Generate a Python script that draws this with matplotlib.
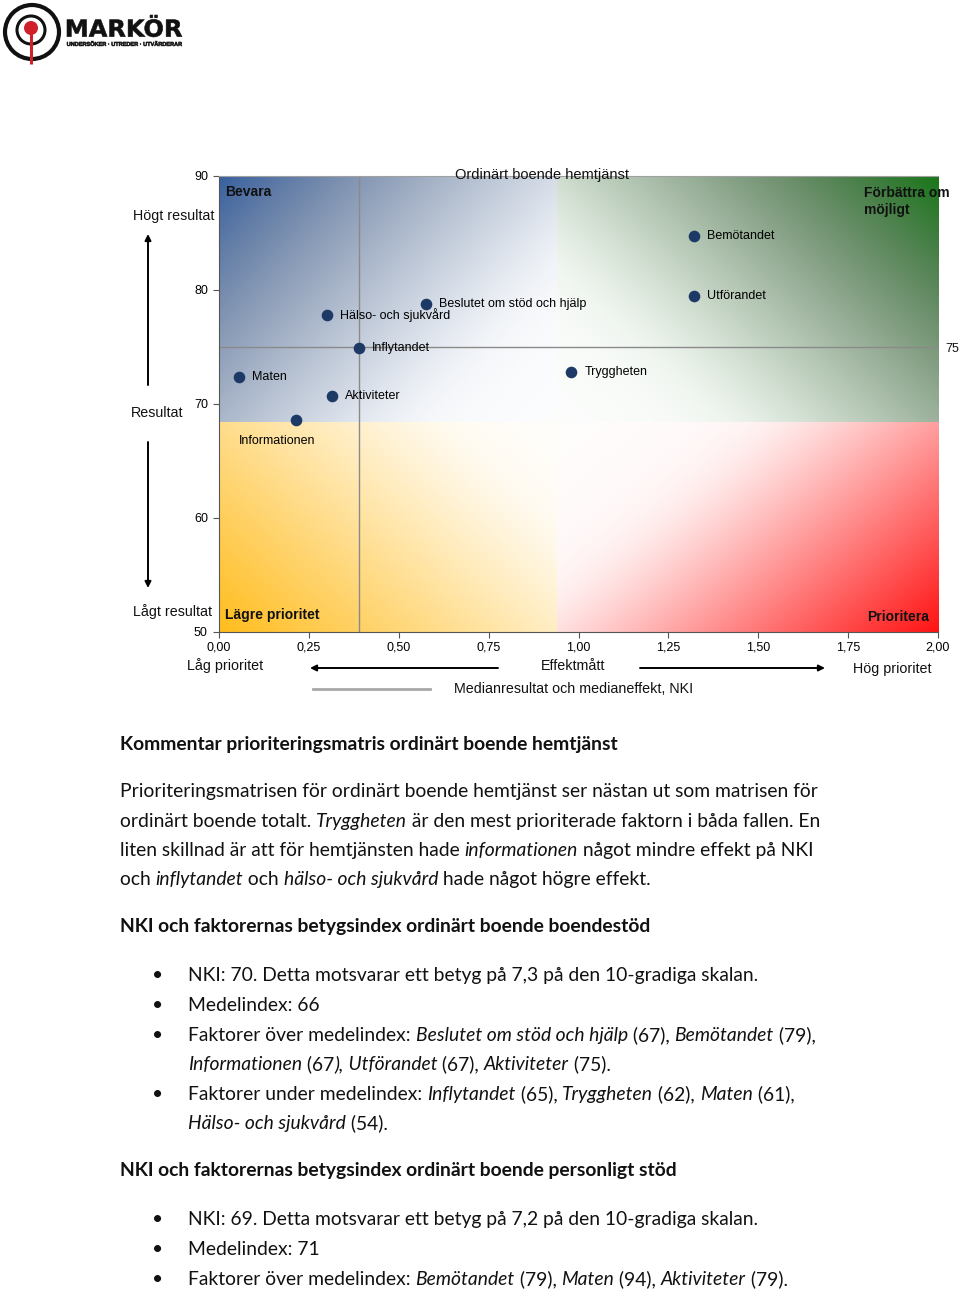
import matplotlib
matplotlib.use("Agg")
import matplotlib.pyplot as plt
import numpy as np
from matplotlib.patches import Circle, PathPatch
from matplotlib.textpath import TextPath
from matplotlib.font_manager import FontProperties
from matplotlib.transforms import Affine2D

# data
factors = ["Bemötandet", "Utförandet", "Beslutet om stöd och hjälp", "Hälso- och sjukvård",
           "Inflytandet", "Tryggheten", "Maten", "Aktiviteter", "Informationen"]
effect = [1.32, 1.32, 0.575, 0.30, 0.39, 0.98, 0.055, 0.315, 0.215]
result = [84.7, 79.5, 78.8, 77.8, 74.9, 72.8, 72.4, 70.7, 68.6]
median_effect = 0.39
median_result = 75
x_ticks = [0.0, 0.25, 0.5, 0.75, 1.0, 1.25, 1.5, 1.75, 2.0]
y_ticks = [50, 60, 70, 80, 90]
# background zone split
split_x = 0.94
split_y = 68.4

chart_font = "Liberation Sans"
body_font = "Lato"

fig = plt.figure(figsize=(9.6, 12.91), dpi=100)

# chart axes (pixel box 219..938 x 176..632)
ax = fig.add_axes([219 / 960, 1 - 632 / 1291, 719 / 960, 456 / 1291], zorder=1)


def quad(x0, x1, y0, y1, rgb, cx, cy, a, b, desat):
    n = 200
    u = np.linspace(0, 1, n)[None, :]
    v = np.linspace(0, 1, n)[:, None]
    lin = 1 - a * np.abs(u - cx) - b * np.abs(v - cy)
    f = 0.5 * (lin + np.sqrt(lin ** 2 + 0.02))  # soft clip at 0
    f = np.clip(f, 0, 1)
    img = np.ones((n, n, 3))
    for i in range(3):
        img[:, :, i] = 1 - (1 - rgb[i]) * f
    lum = img.mean(axis=2, keepdims=True)
    k = (desat * 4 * f * (1 - f))[:, :, None]
    img = img * (1 - k) + lum * k
    ax.imshow(img, extent=[x0, x1, y0, y1], origin="lower", aspect="auto",
              interpolation="bilinear", zorder=0)


quad(0, split_x, split_y, 90, (0.22, 0.38, 0.63), 0, 1, 0.8, 0.55, 0.35)
quad(split_x, 2, split_y, 90, (0.10, 0.47, 0.10), 1, 1, 0.8, 0.55, 0.5)
quad(0, split_x, 50, split_y, (1.0, 0.74, 0.12), 0, 0, 0.75, 0.5, 0.0)
quad(split_x, 2, 50, split_y, (1.0, 0.08, 0.08), 1, 0, 0.9, 0.6, 0.0)
ax.set_xlim(0, 2)
ax.set_ylim(50, 90)

ax.axvline(median_effect, color="#8a8a8a", lw=1, zorder=1)
ax.axhline(median_result, color="#8a8a8a", lw=1, zorder=1)

ax.scatter(effect, result, s=70, color="#1d3966", zorder=3, linewidths=0)
for name, x, y in zip(factors, effect, result):
    if name == "Informationen":
        ax.annotate(name, (x, y), xytext=(-19, -21), textcoords="offset pixels",
                    ha="center", va="center", fontsize=9, family=chart_font, zorder=4)
    else:
        ax.annotate(name, (x, y), xytext=(13, 0), textcoords="offset pixels",
                    ha="left", va="center", fontsize=9, family=chart_font, zorder=4)

ax.set_xticks(x_ticks)
ax.set_xticklabels([f"{v:.2f}".replace(".", ",") for v in x_ticks],
                   fontsize=9, family=chart_font)
ax.set_yticks(y_ticks)
ax.set_yticklabels([str(v) for v in y_ticks], fontsize=9, family=chart_font)
ax.tick_params(length=4, color="#555555", pad=3)
ax.tick_params(axis="y", pad=4)
ax.spines["right"].set_visible(False)
ax.spines["top"].set_color("#a0a0a0")
ax.spines["top"].set_linewidth(0.8)
for s in ["left", "bottom"]:
    ax.spines[s].set_color("#555555")
    ax.spines[s].set_linewidth(0.8)

# page axes in pixel coordinates, on top
pg = fig.add_axes([0, 0, 1, 1], zorder=5)
pg.set_xlim(0, 960)
pg.set_ylim(1291, 0)
pg.axis("off")
pg.patch.set_alpha(0)

# logo
pg.add_patch(Circle((32, 32), 27, fill=False, lw=3.0, ec="#111111"))
pg.add_patch(Circle((31, 30), 14, fill=False, lw=2.2, ec="#111111"))
pg.plot([31, 31], [28, 64], color="#d0202a", lw=2.2, solid_capstyle="butt")
pg.add_patch(Circle((31, 28), 7, fc="#d0202a", ec="none"))


def path_text(s, box, family):
    tp = TextPath((0, 0), s, size=10, prop=FontProperties(family=family, weight="bold"))
    bb = tp.get_extents()
    x0, y0, x1, y1 = box
    tr = (Affine2D().translate(-bb.x0, -bb.y0)
          .scale((x1 - x0) / bb.width, -(y1 - y0) / bb.height)
          .translate(x0, y1))
    pg.add_patch(PathPatch(tr.transform_path(tp), fc="#111111", ec="#111111", lw=0.4))


path_text("MARKÖR", (67, 15, 182, 37), "DejaVu Sans")
path_text("UNDERSÖKER · UTREDER · UTVÄRDERAR", (67, 41, 182, 46), chart_font)

# chart texts
ct = dict(family=chart_font, color="#111111")
pg.text(542, 175, "Ordinärt boende hemtjänst", ha="center", va="center", fontsize=10.5, **ct)
pg.text(225, 192, "Bevara", ha="left", va="center", fontsize=10, weight="bold", **ct)
pg.text(864, 193, "Förbättra om", ha="left", va="center", fontsize=10, weight="bold", **ct)
pg.text(864, 210, "möjligt", ha="left", va="center", fontsize=10, weight="bold", **ct)
pg.text(225, 615, "Lägre prioritet", ha="left", va="center", fontsize=10, weight="bold", **ct)
pg.text(929, 617, "Prioritera", ha="right", va="center", fontsize=10, weight="bold", **ct)
pg.text(952, 349, "75", ha="center", va="center", fontsize=9, **ct)

pg.text(214, 216, "Högt resultat", ha="right", va="center", fontsize=10.3, **ct)
pg.text(157, 413, "Resultat", ha="center", va="center", fontsize=10.3, **ct)
pg.text(212, 612, "Lågt resultat", ha="right", va="center", fontsize=10.3, **ct)
arrow = dict(arrowstyle="-|>", color="black", lw=1.4, mutation_scale=9, shrinkA=0, shrinkB=0)
pg.annotate("", xy=(148, 234), xytext=(148, 385), arrowprops=arrow)
pg.annotate("", xy=(148, 588), xytext=(148, 442), arrowprops=arrow)

pg.text(225, 666, "Låg prioritet", ha="center", va="center", fontsize=10.3, **ct)
pg.text(573, 666, "Effektmått", ha="center", va="center", fontsize=10.3, **ct)
pg.text(892, 669, "Hög prioritet", ha="center", va="center", fontsize=10.3, **ct)
pg.annotate("", xy=(310, 668), xytext=(498, 668), arrowprops=arrow)
pg.annotate("", xy=(825, 668), xytext=(640, 668), arrowprops=arrow)
pg.plot([313, 430], [689, 689], color="#a8a8a8", lw=2)
pg.text(574, 689, "Medianresultat och medianeffekt, NKI", ha="center", va="center",
        fontsize=10.3, **ct)

# body text
renderer = fig.canvas.get_renderer()


def width(s, **kw):
    t = pg.text(0, 0, "x" + s + "x", **kw)
    w = t.get_window_extent(renderer).width
    t.remove()
    t2 = pg.text(0, 0, "xx", **kw)
    w2 = t2.get_window_extent(renderer).width
    t2.remove()
    return w - w2


line1 = "Prioriteringsmatrisen för ordinärt boende hemtjänst ser nästan ut som matrisen för"
body_pt = 10 * 698 / width(line1, fontsize=10, family=body_font)


def runs(x, y, parts, weight="normal"):
    for s, style in parts:
        kw = dict(fontsize=body_pt, family=body_font, style=style, weight=weight)
        pg.text(x, y, s, va="baseline", ha="left", color="#111111", **kw)
        x += width(s, **kw)


N, I = "normal", "italic"
off = 6
runs(120, 744 + off, [("Kommentar prioriteringsmatris ordinärt boende hemtjänst", N)], "bold")
runs(120, 791 + off, [(line1, N)])
runs(120, 821 + off, [("ordinärt boende totalt. ", N), ("Tryggheten", I),
                      (" är den mest prioriterade faktorn i båda fallen. En", N)])
runs(120, 850 + off, [("liten skillnad är att för hemtjänsten hade ", N), ("informationen", I),
                      (" något mindre effekt på NKI", N)])
runs(120, 879 + off, [("och ", N), ("inflytandet", I), (" och ", N), ("hälso- och sjukvård", I),
                      (" hade något högre effekt.", N)])

runs(120, 926 + off, [("NKI och faktorernas betygsindex ordinärt boende boendestöd", N)], "bold")


def bullet(y, parts, dot=True):
    if dot:
        pg.text(158, y + off, "•", ha="center", va="baseline", fontsize=body_pt,
                family=body_font, color="#111111")
    runs(188, y + off, parts)


bullet(975, [("NKI: 70. Detta motsvarar ett betyg på 7,3 på den 10-gradiga skalan.", N)])
bullet(1005, [("Medelindex: 66", N)])
bullet(1035, [("Faktorer över medelindex: ", N), ("Beslutet om stöd och hjälp", I), (" (67), ", N),
              ("Bemötandet", I), (" (79),", N)])
bullet(1064, [("Informationen", I), (" (67", N), ("),", I), (" Utförandet", I), (" (67), ", N),
              ("Aktiviteter", I), (" (75).", N)], dot=False)
bullet(1094, [("Faktorer under medelindex: ", N), ("Inflytandet", I), (" (65), ", N),
              ("Tryggheten", I), (" (62), ", N), ("Maten", I), (" (61),", N)])
bullet(1123, [("Hälso- och sjukvård", I), (" (54).", N)], dot=False)

runs(120, 1170 + off, [("NKI och faktorernas betygsindex ordinärt boende personligt stöd", N)], "bold")
bullet(1219, [("NKI: 69. Detta motsvarar ett betyg på 7,2 på den 10-gradiga skalan.", N)])
bullet(1249, [("Medelindex: 71", N)])
bullet(1279, [("Faktorer över medelindex: ", N), ("Bemötandet", I), (" (79), ", N),
              ("Maten", I), (" (94), ", N), ("Aktiviteter", I), (" (79).", N)])

fig.savefig("out.png", dpi=100)
